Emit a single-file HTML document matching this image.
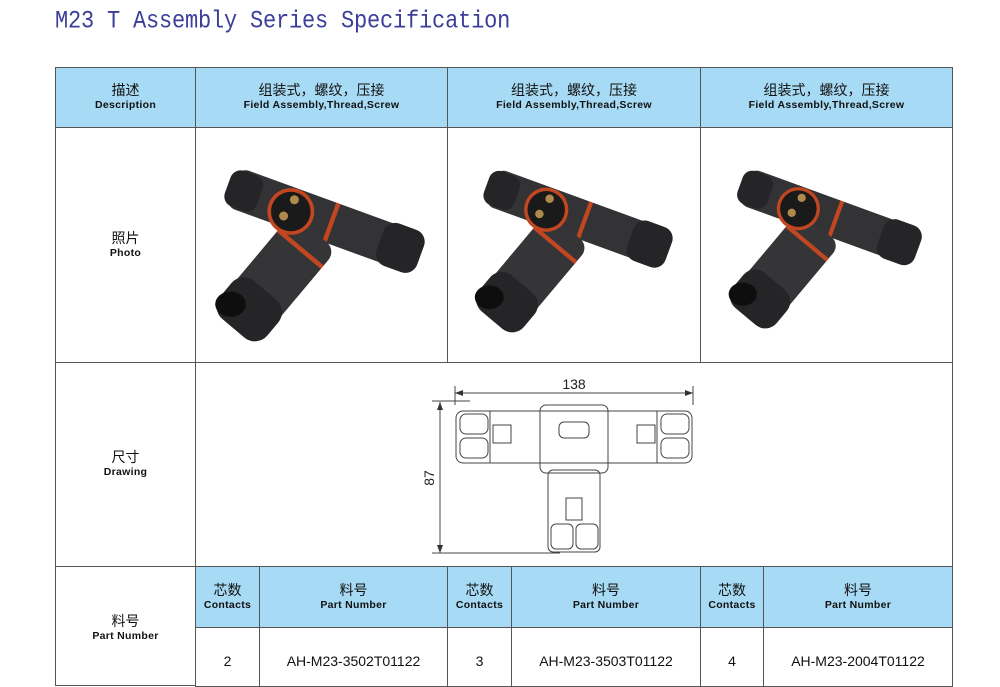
<!DOCTYPE html>
<html><head><meta charset="utf-8"><style>
*{margin:0;padding:0;box-sizing:border-box}
body{width:1000px;height:675px;background:#fff;position:relative;overflow:hidden;font-family:"Liberation Sans","Noto Sans CJK SC",sans-serif}
.t{position:absolute;left:55px;top:7px;font-family:"Liberation Mono","Noto Sans CJK SC",monospace;font-size:22px;letter-spacing:-0.2px;color:#3b3f9a;transform:scaleY(1.15);transform-origin:0 0}
.c{position:absolute;border:1px solid #555;display:flex;flex-direction:column;align-items:center;justify-content:center;text-align:center;color:#111}
.b{background:#a7daf4}
.zh{font-size:14px;line-height:16px}
.en{font-size:10.5px;font-weight:bold;line-height:15px;letter-spacing:.3px}
.v{font-size:14px;padding-top:8px}
svg{position:absolute}
</style></head><body>
<div class="t">M23 T Assembly Series Specification</div>

<div class="c b" style="left:55px;top:67px;width:141px;height:61px"><div class="zh">描述</div><div class="en">Description</div></div>
<div class="c b" style="left:195px;top:67px;width:253px;height:61px"><div class="zh">组装式，螺纹，压接</div><div class="en">Field Assembly,Thread,Screw</div></div>
<div class="c b" style="left:447px;top:67px;width:254px;height:61px"><div class="zh">组装式，螺纹，压接</div><div class="en">Field Assembly,Thread,Screw</div></div>
<div class="c b" style="left:700px;top:67px;width:253px;height:61px"><div class="zh">组装式，螺纹，压接</div><div class="en">Field Assembly,Thread,Screw</div></div>

<div class="c" style="left:55px;top:127px;width:141px;height:236px"><div class="zh">照片</div><div class="en">Photo</div></div>
<div class="c" style="left:195px;top:127px;width:253px;height:236px"></div>
<div class="c" style="left:447px;top:127px;width:254px;height:236px"></div>
<div class="c" style="left:700px;top:127px;width:253px;height:236px"></div>

<div class="c" style="left:55px;top:362px;width:141px;height:205px"><div class="zh">尺寸</div><div class="en">Drawing</div></div>
<div class="c" style="left:195px;top:362px;width:758px;height:205px"></div>

<div class="c" style="left:55px;top:566px;width:141px;height:120px;justify-content:flex-start;padding-top:46px"><div class="zh">料号</div><div class="en">Part Number</div></div>

<div class="c b" style="left:195px;top:566px;width:65px;height:62px"><div class="zh">芯数</div><div class="en">Contacts</div></div>
<div class="c b" style="left:259px;top:566px;width:189px;height:62px"><div class="zh">料号</div><div class="en">Part Number</div></div>
<div class="c b" style="left:447px;top:566px;width:65px;height:62px"><div class="zh">芯数</div><div class="en">Contacts</div></div>
<div class="c b" style="left:511px;top:566px;width:190px;height:62px"><div class="zh">料号</div><div class="en">Part Number</div></div>
<div class="c b" style="left:700px;top:566px;width:64px;height:62px"><div class="zh">芯数</div><div class="en">Contacts</div></div>
<div class="c b" style="left:763px;top:566px;width:190px;height:62px"><div class="zh">料号</div><div class="en">Part Number</div></div>

<div class="c" style="left:195px;top:627px;width:65px;height:60px"><div class="v">2</div></div>
<div class="c" style="left:259px;top:627px;width:189px;height:60px"><div class="v">AH-M23-3502T01122</div></div>
<div class="c" style="left:447px;top:627px;width:65px;height:60px"><div class="v">3</div></div>
<div class="c" style="left:511px;top:627px;width:190px;height:60px"><div class="v">AH-M23-3503T01122</div></div>
<div class="c" style="left:700px;top:627px;width:64px;height:60px"><div class="v">4</div></div>
<div class="c" style="left:763px;top:627px;width:190px;height:60px"><div class="v">AH-M23-2004T01122</div></div>

<svg width="1000" height="675" style="left:0;top:0">
<defs>
<g id="con">
 <g transform="rotate(20 130 65)">
  <rect x="20" y="42" width="220" height="46" rx="12" fill="#333335"/>
  <rect x="195" y="40" width="48" height="50" rx="14" fill="#252527"/>
  <rect x="15" y="44" width="38" height="42" rx="12" fill="#252527"/>
  <rect x="135" y="42" width="5" height="46" fill="#c2461f"/>
 </g>
 <g transform="rotate(-50 70 135)">
  <rect x="15" y="103" width="130" height="64" rx="14" fill="#353537"/>
  <rect x="5" y="101" width="55" height="68" rx="18" fill="#252527"/>
  <rect x="118" y="103" width="5" height="64" fill="#c2461f"/>
 </g>
 <ellipse cx="25" cy="158" rx="17" ry="14" fill="#0e0e0f"/>
 <circle cx="92" cy="55" r="26" fill="#c2461f"/>
 <circle cx="92" cy="55" r="22" fill="#1a1a1b"/>
 <circle cx="96" cy="42" r="5" fill="#b08a4a"/>
 <circle cx="84" cy="60" r="5" fill="#b08a4a"/>
</g>
</defs>
<use href="#con" transform="translate(208,162) scale(0.9)"/>
<use href="#con" transform="translate(468,163) scale(0.85)"/>
<use href="#con" transform="translate(722,163) scale(0.83)"/>

<g stroke="#444" fill="none" stroke-width="1">
 <line x1="455" y1="393" x2="693" y2="393"/>
 <line x1="455" y1="386" x2="455" y2="405"/><line x1="693" y1="386" x2="693" y2="405"/>
 <line x1="440" y1="402" x2="440" y2="553"/>
 <line x1="432" y1="401" x2="470" y2="401"/><line x1="432" y1="553" x2="560" y2="553"/>
 <rect x="456" y="411" width="236" height="52" rx="7"/>
 <rect x="540" y="405" width="68" height="68" rx="6"/>
 <rect x="548" y="470" width="52" height="82" rx="5"/>
 <rect x="460" y="414" width="28" height="20" rx="6"/><rect x="460" y="438" width="28" height="20" rx="6"/>
 <rect x="661" y="414" width="28" height="20" rx="6"/><rect x="661" y="438" width="28" height="20" rx="6"/>
 <rect x="551" y="524" width="22" height="25" rx="5"/><rect x="576" y="524" width="22" height="25" rx="5"/>
 <rect x="493" y="425" width="18" height="18"/><rect x="637" y="425" width="18" height="18"/>
 <rect x="559" y="422" width="30" height="16" rx="5"/>
 <rect x="566" y="498" width="16" height="22"/>
 <line x1="490" y1="411" x2="490" y2="463"/><line x1="657" y1="411" x2="657" y2="463"/>
</g>
<g fill="#333"><polygon points="455,393 463,390 463,396"/><polygon points="693,393 685,390 685,396"/>
<polygon points="440,402 437,410 443,410"/><polygon points="440,553 437,545 443,545"/></g>
<text x="574" y="389" font-size="14" text-anchor="middle" font-family="Liberation Sans" fill="#222">138</text>
<text transform="translate(434,478) rotate(-90)" font-size="14" text-anchor="middle" font-family="Liberation Sans" fill="#222">87</text>
</svg>
</body></html>
